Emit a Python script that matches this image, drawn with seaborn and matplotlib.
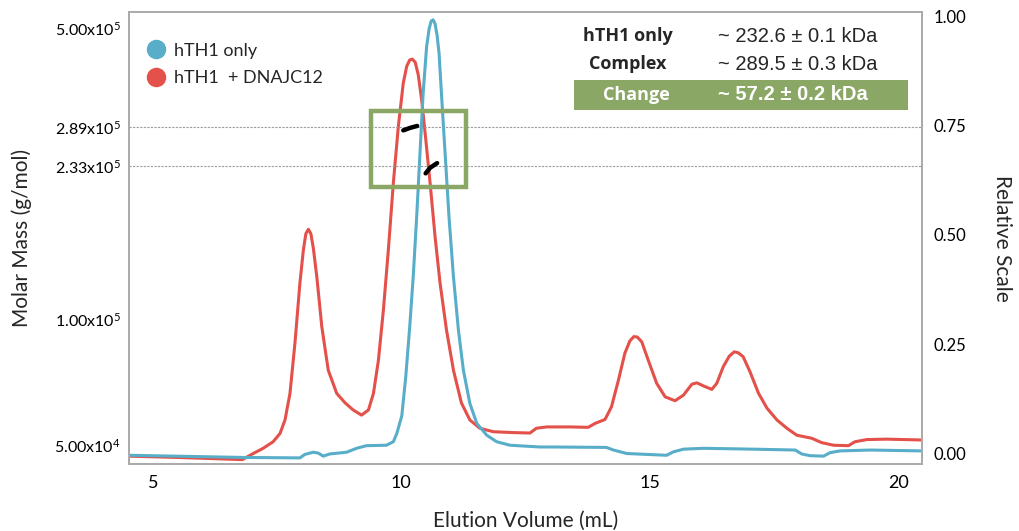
import matplotlib
matplotlib.use("Agg")
import matplotlib.pyplot as plt
from matplotlib.patches import Rectangle
from matplotlib.lines import Line2D
from matplotlib.ticker import FixedLocator, NullLocator
import seaborn as sns
import pandas as pd

# ---------------- data ----------------
vol_hth1 = [4.52, 6.82, 7.96, 8.06, 8.23, 8.33, 8.43, 8.56, 8.90, 9.10, 9.30, 9.70, 9.84,
            9.91, 10.01, 10.09, 10.17, 10.24, 10.31, 10.38, 10.44, 10.51, 10.56, 10.60,
            10.64, 10.68, 10.72, 10.76, 10.82, 10.89, 10.96, 11.05, 11.15, 11.25, 11.38,
            11.52, 11.72, 11.92, 12.19, 12.79, 13.06, 14.13, 14.27, 14.54, 14.94, 15.34,
            15.48, 15.68, 16.08, 17.09, 17.93, 18.06, 18.23, 18.50, 18.63, 18.83, 19.44,
            20.48]
rel_hth1 = [-0.005, -0.010, -0.011, -0.003, 0.002, 0.000, -0.007, -0.002, 0.002, 0.011, 0.017,
            0.018, 0.026, 0.045, 0.085, 0.175, 0.290, 0.404, 0.542, 0.695, 0.825, 0.932,
            0.972, 0.990, 0.993, 0.984, 0.958, 0.917, 0.802, 0.672, 0.542, 0.404, 0.282,
            0.190, 0.114, 0.068, 0.041, 0.026, 0.018, 0.014, 0.014, 0.013, 0.007, -0.001,
            -0.003, -0.005, 0.003, 0.009, 0.011, 0.009, 0.007, -0.002, -0.006, -0.007,
            0.001, 0.005, 0.007, 0.005]

vol_complex = [4.52, 5.50, 6.30, 6.80, 7.02, 7.22, 7.42, 7.56, 7.66, 7.76, 7.86, 7.96, 8.03,
               8.08, 8.13, 8.18, 8.23, 8.30, 8.40, 8.53, 8.70, 8.87, 9.03, 9.20, 9.34, 9.44,
               9.54, 9.64, 9.74, 9.84, 9.94, 10.04, 10.11, 10.17, 10.22, 10.28, 10.34, 10.41,
               10.50, 10.58, 10.68, 10.78, 10.91, 11.05, 11.21, 11.38, 11.58, 11.85, 12.25,
               12.59, 12.72, 12.93, 13.40, 13.76, 13.90, 14.10, 14.23, 14.37, 14.50, 14.60,
               14.68, 14.75, 14.84, 14.97, 15.14, 15.31, 15.51, 15.68, 15.85, 15.95, 16.08,
               16.25, 16.35, 16.48, 16.60, 16.70, 16.78, 16.88, 17.02, 17.19, 17.36, 17.56,
               17.76, 17.96, 18.26, 18.46, 18.70, 19.00, 19.13, 19.37, 19.77, 20.48]
rel_complex = [-0.007, -0.010, -0.013, -0.015, -0.001, 0.011, 0.026, 0.045, 0.076, 0.137,
               0.252, 0.390, 0.466, 0.503, 0.513, 0.503, 0.470, 0.404, 0.290, 0.190, 0.137,
               0.115, 0.099, 0.087, 0.099, 0.137, 0.213, 0.328, 0.466, 0.619, 0.748, 0.848,
               0.887, 0.901, 0.903, 0.896, 0.868, 0.810, 0.711, 0.619, 0.496, 0.390, 0.282,
               0.190, 0.115, 0.076, 0.057, 0.049, 0.047, 0.046, 0.057, 0.060, 0.060, 0.059,
               0.068, 0.077, 0.106, 0.167, 0.229, 0.257, 0.267, 0.266, 0.255, 0.213, 0.160,
               0.129, 0.120, 0.133, 0.158, 0.161, 0.154, 0.146, 0.160, 0.198, 0.222, 0.232,
               0.230, 0.221, 0.186, 0.137, 0.103, 0.076, 0.057, 0.041, 0.034, 0.024, 0.018,
               0.017, 0.026, 0.031, 0.032, 0.030]

# molar mass traces across the main peaks (g/mol)
mass_vol_complex = [10.04, 10.18, 10.32]
mass_complex = [2.84e5, 2.88e5, 2.91e5]
mass_vol_hth1 = [10.49, 10.58, 10.72]
mass_hth1 = [2.24e5, 2.31e5, 2.37e5]

left_ticks = [5.0e4, 1.0e5, 2.33e5, 2.89e5, 5.0e5]
left_tick_labels = ["5.00x10$^{4}$", "1.00x10$^{5}$", "2.33x10$^{5}$",
                    "2.89x10$^{5}$", "5.00x10$^{5}$"]
right_ticks = [0.0, 0.25, 0.5, 0.75, 1.0]
right_tick_labels = ["0.00", "0.25", "0.50", "0.75", "1.00"]
x_ticks = [5, 10, 15, 20]
guide_masses = [2.89e5, 2.33e5]

series_names = ["hTH1 only", "hTH1  + DNAJC12"]
table_rows = [("hTH1 only", "~ 232.6 ± 0.1 kDa"),
              ("Complex", "~ 289.5 ± 0.3 kDa")]
table_change = ("Change", "~ 57.2 ± 0.2 kDa")

# ---------------- style ----------------
sns.set_theme(style="white")
FONT = ["Lato", "DejaVu Sans"]
plt.rcParams["font.family"] = FONT
plt.rcParams["mathtext.fontset"] = "custom"
plt.rcParams["mathtext.rm"] = "Lato"
plt.rcParams["mathtext.it"] = "Lato:italic"
plt.rcParams["mathtext.bf"] = "Lato:bold"

BLUE = "#58adc8"
RED = "#e4504a"
GREEN = "#8ba766"
SPINE = "#ababab"

fig = plt.figure(figsize=(10.19, 5.31), dpi=100)
ax = fig.add_axes([129 / 1019, 1 - 464 / 531, (922 - 129) / 1019, (464 - 12) / 531])
ax2 = ax.twinx()

df = pd.concat([
    pd.DataFrame({"vol": vol_hth1, "rel": rel_hth1, "sample": series_names[0]}),
    pd.DataFrame({"vol": vol_complex, "rel": rel_complex, "sample": series_names[1]}),
])
sns.lineplot(data=df, x="vol", y="rel", hue="sample",
             palette={series_names[0]: BLUE, series_names[1]: RED},
             hue_order=[series_names[1], series_names[0]],
             estimator=None, sort=True, linewidth=2.2, legend=False, ax=ax2)

# left (molar mass) axis on top of the curves
ax.set_zorder(ax2.get_zorder() + 1)
ax.patch.set_visible(False)
ax.set_yscale("log")
ax.set_ylim(4.5e4, 5.46e5)
ax.set_xlim(4.52, 20.48)
ax2.set_ylim(-0.025, 1.011)

for m in guide_masses:
    ax.axhline(m, color="#9c9c9c", lw=0.8, ls=(0, (2.0, 1.2)), zorder=1)

sns.lineplot(x=mass_vol_complex, y=mass_complex, color="black", lw=3.2,
             estimator=None, ax=ax, solid_capstyle="round")
sns.lineplot(x=mass_vol_hth1, y=mass_hth1, color="black", lw=3.2,
             estimator=None, ax=ax, solid_capstyle="round")

ax.add_patch(Rectangle((9.39, 2.08e5), 11.30 - 9.39, 3.16e5 - 2.08e5,
                       fill=False, edgecolor=GREEN, lw=3.2, zorder=5))

ax.yaxis.set_major_locator(FixedLocator(left_ticks))
ax.yaxis.set_minor_locator(NullLocator())
ax.set_yticklabels(left_tick_labels)
ax.set_xticks(x_ticks)
ax.set_xticklabels([str(t) for t in x_ticks])
ax2.set_yticks(right_ticks)
ax2.set_yticklabels(right_tick_labels)

ax.tick_params(axis="both", length=0, labelsize=11.5, colors="black")
ax.tick_params(axis="x", pad=8, labelsize=13)
ax.tick_params(axis="y", pad=6)
ax2.tick_params(axis="y", length=0, labelsize=12, pad=8, colors="black")

for a in (ax, ax2):
    for s in a.spines.values():
        s.set_color(SPINE)
        s.set_linewidth(1.3)

ax.set_xlabel("Elution Volume (mL)", fontsize=15, labelpad=14)
ax.set_ylabel("Molar Mass (g/mol)", fontsize=15, labelpad=16)
ax2.set_ylabel("Relative Scale", fontsize=15, rotation=270, labelpad=33)
ax2.set_xlabel("")

# legend
handles = [Line2D([], [], marker="o", ls="", color=BLUE, markersize=13),
           Line2D([], [], marker="o", ls="", color=RED, markersize=13)]
ax.legend(handles, series_names, loc="upper left", bbox_to_anchor=(-15 / 793, 1.0),
          frameon=False, fontsize=13, handletextpad=0.45, labelspacing=0.62,
          borderpad=1.1, handlelength=1.2, borderaxespad=0.6)

# value table (figure coordinates)
def fx(px):
    return px / 1019

def fy(py):
    return 1 - py / 531

for i, (lab, val) in enumerate(table_rows):
    y = 36 + 28 * i
    fig.text(fx(628), fy(y), lab, ha="center", va="center", fontsize=13,
             fontweight="bold", family=["Open Sans", "DejaVu Sans"])
    fig.text(fx(718), fy(y), val, ha="left", va="center", fontsize=14.5,
             family=["Liberation Sans", "DejaVu Sans"])
fig.add_artist(Rectangle((fx(574), fy(110)), fx(908) - fx(574), fy(80) - fy(110),
                         transform=fig.transFigure, facecolor=GREEN, edgecolor="none",
                         zorder=3))
fig.text(fx(636), fy(95), table_change[0], ha="center", va="center", fontsize=13,
         fontweight="bold", color="white", family=["Open Sans", "DejaVu Sans"], zorder=4)
fig.text(fx(718), fy(95), table_change[1], ha="left", va="center", fontsize=14.5,
         fontweight="bold", color="white", family=["Liberation Sans", "DejaVu Sans"],
         zorder=4)

fig.savefig("out.png", dpi=100)
